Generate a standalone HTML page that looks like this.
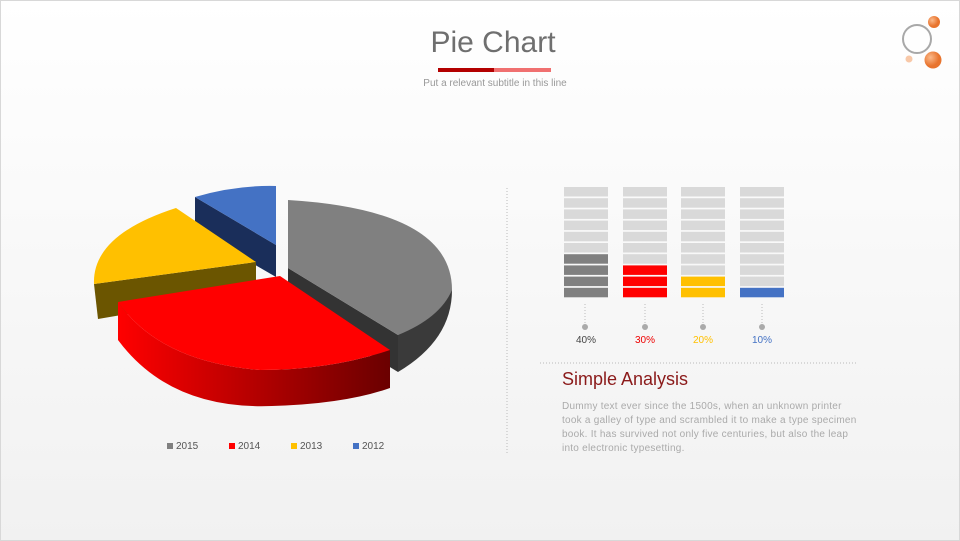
<!DOCTYPE html><html><head><style>
body{margin:0;width:960px;height:541px;overflow:hidden;font-family:"Liberation Sans",sans-serif;background:linear-gradient(#fff,#f1f1f1);position:relative}
.a{position:absolute}
.p div{white-space:nowrap;letter-spacing:0.25px}
</style></head><body>
<div class="a" style="left:0;top:0;width:958px;height:539px;border:1px solid #d8d8d8"></div>
<div class="a" style="left:0;top:26px;width:986px;text-align:center;font-size:30px;color:#6f6f6f">Pie Chart</div>
<div class="a" style="left:438px;top:68px;width:56px;height:4px;background:#b30000"></div>
<div class="a" style="left:494px;top:68px;width:57px;height:4px;background:#f07070"></div>
<div class="a" style="left:0;top:78px;width:990px;text-align:center;font-size:10px;color:#999">Put a relevant subtitle in this line</div>
<svg class="a" style="left:0;top:0" width="960" height="541">
<defs>
<radialGradient id="o1" cx="35%" cy="35%"><stop offset="0" stop-color="#fbb98a"/><stop offset="1" stop-color="#e8742e"/></radialGradient>
<linearGradient id="rs" x1="0" x2="1"><stop offset="0" stop-color="#ff0000"/><stop offset="1" stop-color="#6a0000"/></linearGradient>
</defs>
<circle cx="917" cy="39" r="14" fill="none" stroke="#a8a8a8" stroke-width="2"/>
<circle cx="934" cy="22" r="6" fill="url(#o1)"/>
<circle cx="933" cy="60" r="8.5" fill="url(#o1)"/>
<circle cx="909" cy="59" r="3.5" fill="#f8c8a8"/>
<path d="M195,197 L276,245 L276,277 L195,230Z" fill="#1a2e5a"/>
<path d="M195,197 Q235,185 276,186 L276,245Z" fill="#4472c4"/>
<path d="M94,284 L256,262 L256,292 L98,319Z" fill="#6b5500"/>
<path d="M94,284 Q92,235 176,208 L256,262Z" fill="#ffc000"/>
<path d="M288,268 L398,335 L398,372 L288,305Z" fill="#333"/>
<path d="M452,290 Q452,340 398,372 L398,335Z" fill="#3a3a3a"/>
<path d="M288,268 L288,200 Q452,210 452,290 Q440,318 398,335Z" fill="#808080"/>
<path d="M118,302 L118,340 Q170,410 272,406 Q345,404 390,388 L390,350 Q330,370 260,370 Q160,362 118,302Z" fill="url(#rs)"/>
<path d="M118,302 L280,276 L390,350 Q330,370 260,370 Q160,362 118,302Z" fill="#ff0000"/>
<line x1="507" y1="188" x2="507" y2="455" stroke="#bbb" stroke-dasharray="1,2"/>
<line x1="540" y1="363" x2="858" y2="363" stroke="#bbb" stroke-dasharray="1,2"/>
<g id="bars"></g>
<g stroke="#bbb" stroke-dasharray="1,2"><line x1="585" y1="304" x2="585" y2="325"/><line x1="645" y1="304" x2="645" y2="325"/><line x1="703" y1="304" x2="703" y2="325"/><line x1="762" y1="304" x2="762" y2="325"/></g>
<g fill="#aaa"><circle cx="585" cy="327" r="3"/><circle cx="645" cy="327" r="3"/><circle cx="703" cy="327" r="3"/><circle cx="762" cy="327" r="3"/></g>
<g font-size="10" text-anchor="middle"><text x="586" y="343" fill="#444">40%</text><text x="645" y="343" fill="#e00">30%</text><text x="703" y="343" fill="#ffc000">20%</text><text x="762" y="343" fill="#4472c4">10%</text></g>
<g font-size="10" fill="#555"><rect x="167" y="443" width="6" height="6" fill="#808080"/><text x="176" y="449">2015</text><rect x="229" y="443" width="6" height="6" fill="#f00"/><text x="238" y="449">2014</text><rect x="291" y="443" width="6" height="6" fill="#ffc000"/><text x="300" y="449">2013</text><rect x="353" y="443" width="6" height="6" fill="#4472c4"/><text x="362" y="449">2012</text></g>
</svg>
<div class="a" style="left:562px;top:369px;font-size:18px;color:#8b1a1a">Simple Analysis</div>
<div class="a p" style="left:562px;top:400px;font-size:10px;line-height:14px;color:#aaa"><div>Dummy text ever since the 1500s, when an unknown printer</div><div>took a galley of type and scrambled it to make a type specimen</div><div>book. It has survived not only five centuries, but also the leap</div><div>into electronic typesetting.</div></div>
<script>
var g=document.getElementById('bars'),xs=[564,623,681,740],n=[4,3,2,1],c=['#808080','#ff0000','#ffc000','#4472c4'],s='';
for(var i=0;i<4;i++)for(var r=0;r<10;r++){var y=187+r*11.2;s+='<rect x="'+xs[i]+'" y="'+y+'" width="44" height="9.5" fill="'+(r>=10-n[i]?c[i]:'#d9d9d9')+'"/>';}
g.innerHTML=s;
</script>
</body></html>
